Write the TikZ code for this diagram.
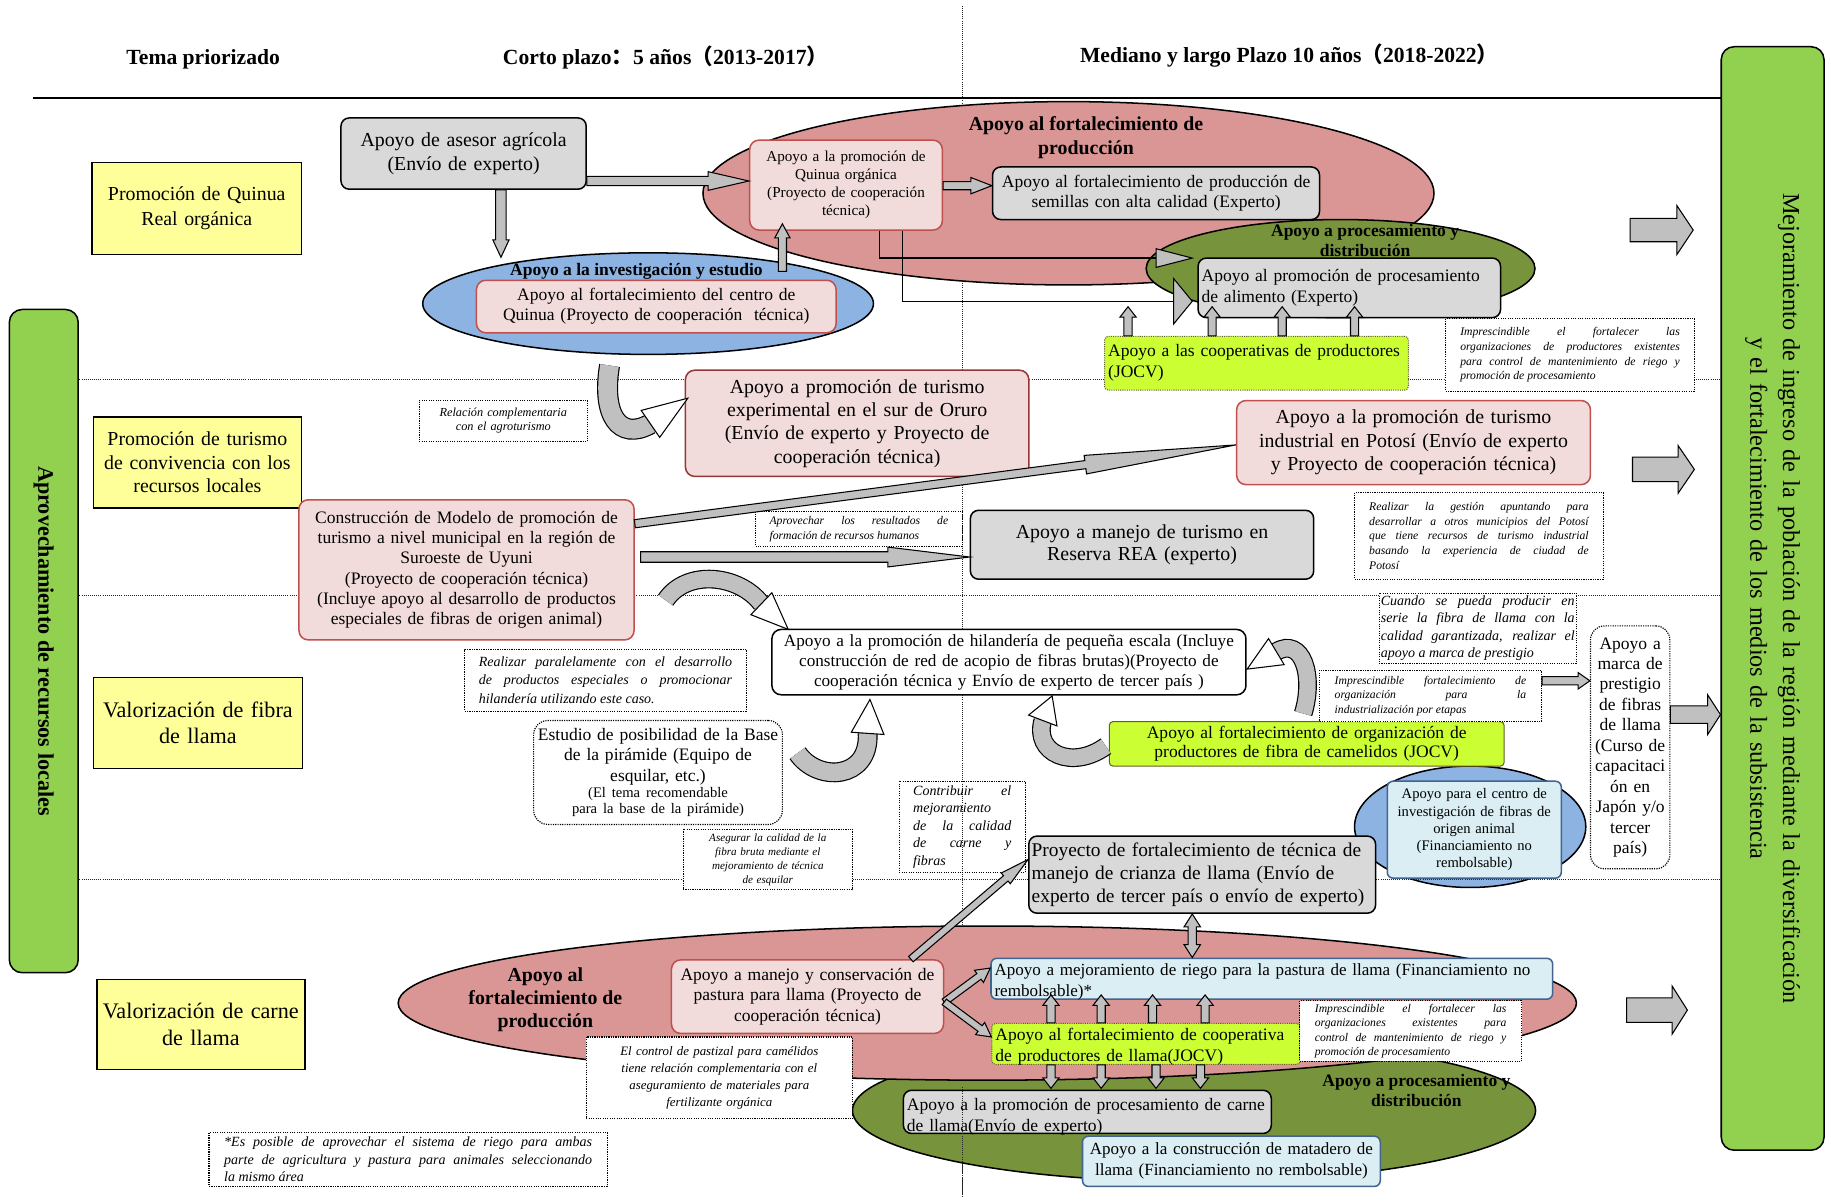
\documentclass[tikz,border=0pt]{standalone}
\usepackage{fontspec}
\setmainfont{Liberation Serif}
\newfontfamily\cjkfont{Noto Sans CJK SC}
\usetikzlibrary{shapes.geometric,calc}

\definecolor{bgray}{RGB}{217,217,217}
\definecolor{pinkE}{RGB}{217,150,148}
\definecolor{pinkL}{RGB}{242,220,219}
\definecolor{pinkB}{RGB}{192,80,77}
\definecolor{pinkD}{RGB}{149,55,53}
\definecolor{blueE}{RGB}{141,179,226}
\definecolor{greenE}{RGB}{119,147,60}
\definecolor{lblue}{RGB}{219,238,243}
\definecolor{lblueB}{RGB}{31,73,125}
\definecolor{ygreen}{RGB}{204,255,51}
\definecolor{yell}{RGB}{255,255,153}
\definecolor{barG}{RGB}{146,208,80}
\definecolor{arrG}{RGB}{192,192,192}

\newcommand\szH{\fontsize{18.5}{22}\selectfont\bfseries}
\newcommand\szL{\fontsize{17}{20}\selectfont}
\newcommand\szM{\fontsize{15}{17.3}\selectfont}
\newcommand\szS{\fontsize{13}{15.3}\selectfont}
\newcommand\szT{\fontsize{12.5}{14.7}\selectfont}
\newcommand\szN{\fontsize{10}{12.5}\selectfont\itshape}

% straight block arrow: [style]{from}{to}{shaft half width}{head half width}{head length}
\newcommand\barr[6][]{%
  \path[arrowfill,#1] let \p1=(#2), \p2=(#3),
    \n1={atan2(\y2-\y1,\x2-\x1)}, \n2={veclen(\x2-\x1,\y2-\y1)-(#6)},
    \n3={cos(\n1)}, \n4={sin(\n1)} in
    ({\x1-(#4)*(\n4)},{\y1+(#4)*(\n3)}) --
    ({\x1+(\n2)*(\n3)-(#4)*(\n4)},{\y1+(\n2)*(\n4)+(#4)*(\n3)}) --
    ({\x1+(\n2)*(\n3)-(#5)*(\n4)},{\y1+(\n2)*(\n4)+(#5)*(\n3)}) --
    (\p2) --
    ({\x1+(\n2)*(\n3)+(#5)*(\n4)},{\y1+(\n2)*(\n4)-(#5)*(\n3)}) --
    ({\x1+(\n2)*(\n3)+(#4)*(\n4)},{\y1+(\n2)*(\n4)-(#4)*(\n3)}) --
    ({\x1+(#4)*(\n4)},{\y1-(#4)*(\n3)}) -- cycle;}
% triangular head: [style]{base centre}{tip}{half width}
\newcommand\ahead[4][]{%
  \path[headst,#1] let \p1=(#2), \p2=(#3),
    \n1={atan2(\y2-\y1,\x2-\x1)}, \n3={cos(\n1)}, \n4={sin(\n1)} in
    ({\x1-(#4)*(\n4)},{\y1+(#4)*(\n3)}) -- (\p2) --
    ({\x1+(#4)*(\n4)},{\y1-(#4)*(\n3)}) -- cycle;}
% curved band arrow
\newcommand\carr[8]{%
  \draw[black, line width=#6] (#1) .. controls (#2) and (#3) .. (#4);
  \draw[arrG, line width=#7] (#1) .. controls (#2) and (#3) .. (#4);
  \ahead{#4}{#5}{#8}}

\begin{document}
\hyphenpenalty=10000 \exhyphenpenalty=10000
\begin{tikzpicture}[x=1pt,y=-1pt,
  every node/.style={inner xsep=3pt, inner ysep=2pt, align=center},
  arrowfill/.style={fill=arrG, draw=black, line width=0.9pt, line join=miter},
  headst/.style={fill=white, draw=black, line width=0.9pt, line join=miter},
  sepline/.style={densely dotted, line width=0.8pt, black!85},
  ell/.style={ellipse, draw=black, line width=1.3pt, inner sep=0pt},
  gbox/.style={fill=bgray, draw=black, line width=1.3pt, rounded corners=7pt},
  pbox/.style={fill=pinkL, draw=pinkB, line width=1.3pt, rounded corners=8pt},
  lbox/.style={fill=lblue, draw=lblueB!85, line width=1.3pt, rounded corners=5pt},
  jbox/.style={fill=ygreen, draw=olive!60!black, line width=0.9pt, rounded corners=3pt},
  ybox/.style={fill=yell, draw=black, line width=1.3pt},
  wbox/.style={fill=white, draw=black, line width=1.3pt, rounded corners=8pt},
  notebox/.style={fill=white, draw=black, densely dotted, line width=1pt},
  dnote/.style={fill=white, draw=black, densely dotted, line width=1pt, rounded corners=12pt},
  barsty/.style={fill=barG, draw=black, line width=1.3pt, rounded corners=11pt}]

\fill[white] (0,0) rectangle (1568,1028);
\useasboundingbox (0,0) rectangle (1568,1028);

% headers
\node[font=\szH] (tema) at (174,51) {Tema priorizado};
\node[font=\szH] (corto) at (570,49) {Corto plazo{\cjkfont ：}5 años{\cjkfont （}2013-2017{\cjkfont ）}};
\node[font=\szH] (mediano) at (1104,48) {Mediano y largo Plazo 10 años{\cjkfont （}2018-2022{\cjkfont ）}};

% vertical divider (under everything)
\draw[sepline] (824,5) -- (824,1025);

% ellipses
\node[ell, fill=pinkE, minimum width=626pt, minimum height=157pt] (ellQ) at (915,165.5) {};
\node[ell, fill=greenE, minimum width=333pt, minimum height=84pt] (ellG) at (1148,230) {};
\node[ell, fill=blueE, minimum width=386pt, minimum height=87pt] (ellB) at (555,260) {};
\node[ell, fill=blueE, minimum width=198pt, minimum height=104pt] (ellF) at (1259,708) {};
\node[ell, fill=greenE, minimum width=585pt, minimum height=122pt] (ellCG) at (1022.5,951) {};
\node[ell, fill=pinkE, minimum width=1009pt, minimum height=132pt] (ellC) at (845.5,859) {};

% row separators and header rule
\draw[sepline] (68,325) -- (1474,325);
\draw[sepline] (68,510) -- (1474,510);
\draw[sepline] (68,753) -- (1474,753);
\draw[line width=1.3pt] (28,84) -- (1474,84);

% side bars
\node[barsty, rotate=-90, minimum width=568pt, minimum height=59pt,
  font=\fontsize{19}{22}\selectfont\bfseries] (lbar) at (37.5,549) {Aprovechamiento de recursos locales};
\node[barsty, rotate=-90, minimum width=945pt, minimum height=88pt, text width=920pt,
  font=\fontsize{20.8}{28}\selectfont] (rbar) at (1518,512.5)
  {Mejoramiento de ingreso de la población de la región mediante la diversificación\\y el fortalecimiento de los medios de la subsistencia};

% ellipse labels
\node[font=\fontsize{17}{20}\selectfont\bfseries] (ellQlab) at (930,118) {Apoyo al fortalecimiento de\\producción};
\node[font=\fontsize{15}{17}\selectfont\bfseries] (ellBlab) at (545,232) {Apoyo a la investigación y estudio};
\node[font=\fontsize{15}{16.5}\selectfont\bfseries] (ellGlab) at (1169,206) {Apoyo a procesamiento y\\distribución};
\node[font=\fontsize{17}{20}\selectfont\bfseries] (ellClab) at (467,856) {Apoyo al\\fortalecimiento de\\producción};
\node[font=\fontsize{15}{17.5}\selectfont\bfseries] (ellCGlab) at (1213,934) {Apoyo a procesamiento y\\distribución};

% lines from Quinua organica box
\coordinate (tA) at (1021,221);
\coordinate (tB) at (1021,258);
\draw[line width=1.3pt] (724.5,197 -| 753,0) |- ($(tA)+(-31,0)$);
\draw[line width=1.3pt] (724.5,197 -| 773,0) |- ($(tB)+(-16,0)$);
\ahead[fill=arrG]{$(tA)+(-31,0)$}{tA}{8}
\ahead[fill=arrG]{$(tB)+(-16,0)$}{tB}{19.5}

% theme boxes
\node[ybox, minimum width=179pt, minimum height=79pt, text width=171pt, font=\fontsize{17}{21}\selectfont] (yQ) at (168.5,178.5) {Promoción de Quinua\\Real orgánica};
\node[ybox, minimum width=178pt, minimum height=78pt, text width=170pt, font=\fontsize{17}{20}\selectfont] (yT) at (169,396) {Promoción de turismo\\de convivencia con los\\recursos locales};
\node[ybox, minimum width=179pt, minimum height=78pt, text width=173pt, font=\fontsize{19}{23}\selectfont] (yF) at (169.5,619) {Valorización de fibra\\de llama};
\node[ybox, minimum width=178pt, minimum height=77pt, text width=174pt, inner xsep=2pt, font=\fontsize{19}{23}\selectfont] (yC) at (172,877.5) {Valorización de carne\\de llama};

% Quinua row
\node[gbox, minimum width=210pt, minimum height=61pt, text width=200pt, font=\fontsize{17}{21}\selectfont] (asesor) at (397,131.5) {Apoyo de asesor agrícola\\(Envío de experto)};
\node[pbox, minimum width=165pt, minimum height=77pt, text width=159pt, font=\szS] (quin) at (724.5,158.5) {Apoyo a la promoción de\\Quinua orgánica\\(Proyecto de cooperación\\técnica)};
\node[gbox, minimum width=280pt, minimum height=45pt, text width=272pt, font=\szM] (semi) at (990,165.5) {Apoyo al fortalecimiento de producción de\\semillas con alta calidad (Experto)};
\node[pbox, minimum width=308pt, minimum height=45pt, text width=300pt, font=\szM] (centro) at (562,262.5) {Apoyo al fortalecimiento del centro de\\Quinua (Proyecto de cooperación\ \ técnica)};
\node[gbox, minimum width=259pt, minimum height=51pt, text width=253pt, align=left, font=\fontsize{15}{18}\selectfont] (proc) at (1155.5,246.5) {Apoyo al promoción de procesamiento\\de alimento (Experto)};
\node[jbox, densely dotted, minimum width=260pt, minimum height=46pt, text width=254pt, align=left, font=\fontsize{15}{18}\selectfont] (coop) at (1076,311) {Apoyo a las cooperativas de productores\\(JOCV)};
\node[notebox, minimum width=213pt, minimum height=62pt, text width=188pt, align=justify, font=\szN] (noteQ) at (1344.5,304) {Imprescindible el fortalecer las\linebreak organizaciones de productores existentes\linebreak para control de mantenimiento de riego y\linebreak promoción de procesamiento};

% Turismo row
\node[pbox, draw=pinkD, minimum width=294pt, minimum height=91pt, text width=286pt, font=\szL] (oruro) at (734,362.5) {Apoyo a promoción de turismo\\experimental en el sur de Oruro\\(Envío de experto y Proyecto de\\cooperación técnica)};
\node[pbox, minimum width=303pt, minimum height=72pt, text width=295pt, font=\szL] (potosi) at (1210.5,379) {Apoyo a la promoción de turismo\\industrial en Potosí (Envío de experto\\y Proyecto de cooperación técnica)};
\node[pbox, minimum width=287pt, minimum height=120pt, text width=281pt, font=\szM] (uyuni) at (399.5,488) {Construcción de Modelo de promoción de\\turismo a nivel municipal en la región de\\Suroeste de Uyuni\\(Proyecto de cooperación técnica)\\(Incluye apoyo al desarrollo de productos\\especiales de fibras de origen animal)};
\node[gbox, minimum width=294pt, minimum height=59pt, text width=286pt, font=\fontsize{17}{19.5}\selectfont] (rea) at (978,466.5) {Apoyo a manejo de turismo en\\Reserva REA (experto)};
\node[notebox, minimum width=144pt, minimum height=35pt, text width=136pt, font=\fontsize{10.5}{12}\selectfont\itshape] (noteRel) at (431,360.5) {Relación complementaria\\con el agroturismo};
\node[notebox, minimum width=177pt, minimum height=30pt, text width=153pt, align=justify, font=\fontsize{10}{13}\selectfont\itshape] (noteApr) at (735.5,453) {Aprovechar los resultados de\linebreak formación de recursos humanos};
\node[notebox, minimum width=213pt, minimum height=74pt, text width=188pt, align=justify, font=\szN] (notePot) at (1266.5,459) {Realizar la gestión apuntando para\linebreak desarrollar a otros municipios del Potosí\linebreak que tiene recursos de turismo industrial\linebreak basando la experiencia de ciudad de\linebreak Potosí};

% Fibra row
\node[wbox, minimum width=406pt, minimum height=56pt, text width=400pt, font=\fontsize{14.7}{17.3}\selectfont] (hil) at (864,567) {Apoyo a la promoción de hilandería de pequeña escala (Incluye\\construcción de red de acopio de fibras brutas)(Proyecto de\\cooperación técnica y Envío de experto de tercer país )};
\node[notebox, minimum width=241pt, minimum height=53pt, text width=217pt, align=justify, font=\fontsize{12}{15.5}\selectfont\itshape] (notePar) at (518.5,582.5) {Realizar paralelamente con el desarrollo\linebreak de productos especiales o promocionar\linebreak hilandería utilizando este caso.};
\node[dnote, minimum width=213pt, minimum height=89pt, text width=207pt, font=\fontsize{15}{17.5}\selectfont] (estudio) at (563.5,661.5) {Estudio de posibilidad de la Base\\de la pirámide (Equipo de\\esquilar, etc.)\par{\fontsize{12.5}{14}\selectfont (El tema recomendable\\para la base de la pirámide)\par}};
\node[notebox, minimum width=145pt, minimum height=52pt, text width=139pt, font=\fontsize{9.5}{12}\selectfont\itshape] (noteAse) at (657.5,736) {Asegurar la calidad de la\\fibra bruta mediante el\\mejoramiento de técnica\\de esquilar};
\node[notebox, fill=none, minimum width=108pt, minimum height=78pt, text width=84pt, align=justify, font=\fontsize{12}{15}\selectfont\itshape] (noteCon) at (824,708) {Contribuir el\linebreak mejoramiento\linebreak de la calidad\linebreak de carne y\linebreak fibras};
\node[gbox, minimum width=297pt, minimum height=66pt, text width=292pt, inner xsep=2.5pt, align=left, font=\fontsize{16.6}{19.5}\selectfont] (crianza) at (1029.5,749) {Proyecto de fortalecimiento de técnica de\\manejo de crianza de llama (Envío de\\experto de tercer país o envío de experto)};
\node[jbox, minimum width=338pt, minimum height=38pt, text width=330pt, font=\fontsize{15}{16.5}\selectfont] (org) at (1119,637) {Apoyo al fortalecimiento de organización de\\productores de fibra de camelidos (JOCV)};
\node[notebox, minimum width=169pt, minimum height=60pt, text width=166pt, inner xsep=1pt, align=justify, font=\fontsize{12}{15}\selectfont\itshape] (noteCua) at (1265.5,538) {Cuando se pueda producir en\linebreak serie la fibra de llama con la\linebreak calidad garantizada, realizar el\linebreak apoyo a marca de prestigio};
\node[notebox, minimum width=190pt, minimum height=44pt, text width=164pt, align=justify, font=\szN] (noteInd) at (1225,596) {Imprescindible fortalecimiento de\linebreak organización para la\linebreak industrialización por etapas};
\node[dnote, minimum width=68pt, minimum height=208pt, text width=66pt, inner xsep=1pt, font=\fontsize{15}{17.5}\selectfont] (marca) at (1396,640) {Apoyo a\\marca de\\prestigio\\de fibras\\de llama\\(Curso de\\capacitaci\\ón en\\Japón y/o\\tercer\\país)};
\node[lbox, minimum width=149pt, minimum height=83pt, text width=143pt, font=\szT] (cinv) at (1262.5,710.5) {Apoyo para el centro de\\investigación de fibras de\\origen animal\\(Financiamiento no\\rembolsable)};

% Carne row
\node[pbox, minimum width=233pt, minimum height=63pt, text width=227pt, font=\szM] (past) at (691.5,853.5) {Apoyo a manejo y conservación de\\pastura para llama (Proyecto de\\cooperación técnica)};
\node[lbox, anchor=north west, text width=475pt, text height=13pt, text depth=18pt, align=left, font=\fontsize{14.6}{17.3}\selectfont] (riego) at (848,820) {Apoyo a mejoramiento de riego para la pastura de llama (Financiamiento no\\rembolsable)*};
\node[jbox, densely dotted, anchor=north west, text width=258pt, text height=13pt, text depth=18pt, align=left, font=\szM] (coopC) at (849,876) {Apoyo al fortalecimiento de cooperativa\\de productores de llama(JOCV)};
\node[notebox, minimum width=190pt, minimum height=52pt, text width=164pt, align=justify, font=\szN] (noteC) at (1208,883) {Imprescindible el fortalecer las\linebreak organizaciones existentes para\linebreak control de mantenimiento de riego y\linebreak promoción de procesamiento};
\node[gbox, anchor=north west, text width=309pt, text height=15pt, text depth=18pt, align=left, font=\fontsize{15}{18}\selectfont] (procC) at (773,933) {Apoyo a la promoción de procesamiento de carne\\de llama(Envío de experto)};
\node[lbox, minimum width=255pt, minimum height=43pt, text width=251pt, inner xsep=2pt, font=\fontsize{14.6}{18}\selectfont] (mata) at (1054.5,994.5) {Apoyo a la construcción de matadero de\\llama (Financiamiento no rembolsable)};
\node[notebox, minimum width=228pt, minimum height=70pt, text width=220pt, font=\fontsize{11}{14.5}\selectfont\itshape] (notePas) at (616,923) {El control de pastizal para camélidos\\tiene relación complementaria con el\\aseguramiento de materiales para\\fertilizante orgánica};
\node[notebox, minimum width=341pt, minimum height=46pt, text width=315pt, align=justify, font=\fontsize{12}{15}\selectfont\itshape] (noteEs) at (349.5,993) {*Es posible de aprovechar el sistema de riego para ambas\linebreak parte de agricultura y pastura para animales seleccionando\linebreak la mismo área};

% ---------- block arrows ----------
\barr{asesor.east |- 0,155}{quin.west |- 0,155}{4}{8}{35}
\barr{quin.east |- 0,159}{semi.west |- 0,159}{3.5}{7}{18}
\barr{asesor.south -| 429,0}{$(ellB.north -| 429,0)+(0,4.5)$}{4.5}{7}{15}
\barr{$(centro.north -| 670,0)+(0,-7)$}{$(quin.south -| 670,0)+(0,-6)$}{3.5}{6.5}{12}
\foreach \xx in {966,1038,1098,1160}{\barr{coop.north -| \xx,0}{$(proc.south -| \xx,0)+(0,-10)$}{3.5}{7}{9}}

\barr{uyuni.east |- 0,448.5}{potosi.west |- 0,381}{3.5}{8}{130}
\barr{$(uyuni.east |- 0,477)+(5,0)$}{rea.west |- 0,477}{4.5}{8.5}{70}

\barr{past.north -| 780,0}{crianza.west |- 0,736}{3}{6}{25}
\barr{past.east |- 0,858}{riego.west |- 0,829}{3}{6.5}{12}
\barr{past.east |- 0,858}{coopC.west |- 0,888}{3}{6.5}{12}
\foreach \xx in {900,943,987,1032}{\barr{coopC.north -| \xx,0}{\xx,852}{3.5}{7}{9}}
\foreach \xx in {900,943,990,1028}{\barr{coopC.south -| \xx,0}{\xx,932}{3.5}{7}{9}}
\path[arrowfill] let \p1=(crianza.south -| 1021,0), \p2=(riego.north -| 1021,0) in
  (\p1) -- ({\x1+7},{\y1-11}) -- ({\x1+3.5},{\y1-11}) -- ({\x2+3.5},{\y2+11}) -- ({\x2+7},{\y2+11}) --
  (\p2) -- ({\x2-7},{\y2+11}) -- ({\x2-3.5},{\y2+11}) -- ({\x1-3.5},{\y1-11}) -- ({\x1-7},{\y1-11}) -- cycle;
\barr{noteInd.east |- 0,583}{marca.west |- 0,583}{3.5}{7}{10}

% arrows to the right bar
\coordinate (r1a) at (1396,197);  \coordinate (r1b) at (1450,197);
\coordinate (r2a) at (1398,402);  \coordinate (r2b) at (1451,402);
\coordinate (r4a) at (1393,865);  \coordinate (r4b) at (1445,865);
\barr{r1a}{r1b}{10}{21}{14}
\barr{r2a}{r2b}{10.5}{20.5}{14}
\barr{marca.east |- 0,612}{rbar.south |- 0,612}{7.5}{17}{11}
\barr{r4a}{r4b}{10.5}{20.5}{13}

% curved arrows
\carr{522,313}{515,355}{530,378}{557,363}{589,341}{18pt}{16pt}{14}
\carr{570,514}{588,487}{633,492}{652,517}{675,539}{16pt}{14pt}{13}
\carr{683,645}{700,670}{745,668}{743,628}{745,599}{17pt}{15pt}{14}
\carr{947,639}{918,660}{885,645}{893,617}{901,596}{16pt}{14pt}{13}
\carr{1116,611}{1126,578}{1115,545}{1093,558}{1068,573}{16pt}{14pt}{13}

% divider visible over the lower processing area
\draw[sepline] (824,931) -- (824,1025);
\end{tikzpicture}
\end{document}
